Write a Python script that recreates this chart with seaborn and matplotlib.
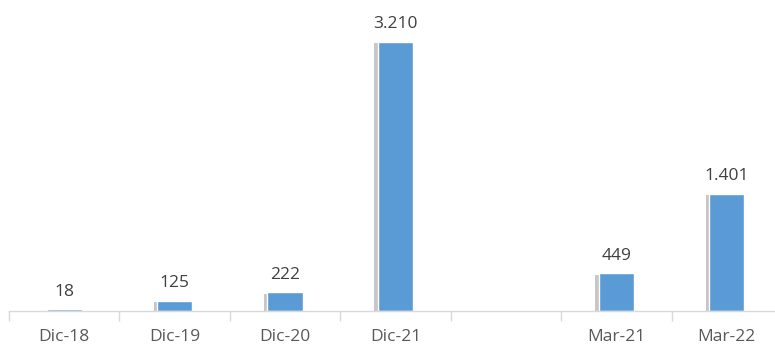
import matplotlib
matplotlib.use("Agg")
import matplotlib.pyplot as plt
import matplotlib.patheffects as pe
import seaborn as sns
import pandas as pd
import numpy as np

categories = ["Dic-18", "Dic-19", "Dic-20", "Dic-21", "Mar-21", "Mar-22"]
values = [18, 125, 222, 3210, 449, 1401]
order = ["Dic-18", "Dic-19", "Dic-20", "Dic-21", " ", "Mar-21", "Mar-22"]
value_labels = ["18", "125", "222", "3.210", "449", "1.401"]

sns.set_theme(style="white")
plt.rcParams["font.family"] = ["Open Sans", "DejaVu Sans"]

df = pd.DataFrame({"cat": categories, "val": values})

fig = plt.figure(figsize=(7.75, 3.47), dpi=100)
ax = fig.add_axes([9 / 775, 1 - 311 / 347, 773 / 775, 311 / 347])

sns.barplot(data=df, x="cat", y="val", order=order, color="#5B9BD5",
            width=0.32, saturation=1, ax=ax, errorbar=None)

for p in ax.patches:
    p.set_path_effects([pe.SimplePatchShadow(offset=(-2.5, -1), shadow_rgbFace="#000000", alpha=0.22),
                        pe.Normal()])

ax.bar_label(ax.containers[0], labels=value_labels,
             padding=7, fontsize=12.5, color="#404040")

ax.set_xlim(-0.5, 6.5)
ax.set_ylim(0, 3710)
ax.set_xlabel("")
ax.set_ylabel("")
ax.set_yticks([])
for s in ["top", "right", "left"]:
    ax.spines[s].set_visible(False)
ax.spines["bottom"].set_color("#D9D9D9")
ax.spines["bottom"].set_linewidth(1)

ax.set_xticks(np.arange(-0.5, 7.0, 1.0), minor=True)
ax.tick_params(axis="x", which="minor", length=7, color="#D9D9D9", width=1, bottom=True, direction="out")
ax.tick_params(axis="x", which="major", length=0, pad=13, labelsize=12.5, labelcolor="#595959")

fig.savefig("out.png", dpi=100)
